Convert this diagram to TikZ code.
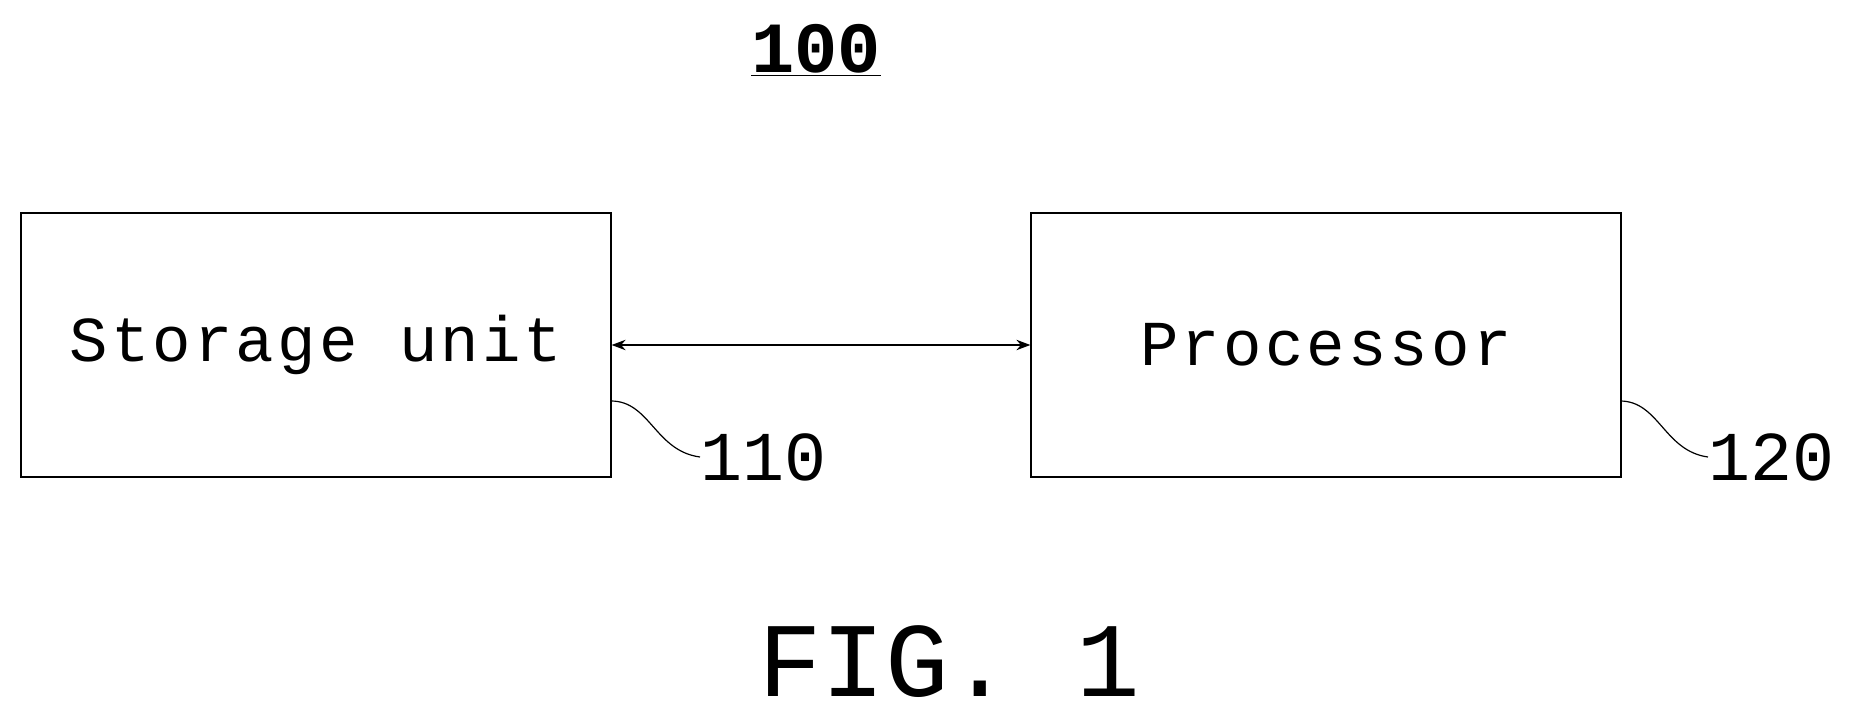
\documentclass[tikz,border=0pt]{standalone}
\usepackage{fontspec}
\setmainfont{Liberation Mono}
\usetikzlibrary{arrows.meta}
\begin{document}
\begin{tikzpicture}[x=1pt,y=-1pt,
  box/.style={draw,line width=1.3pt,minimum width=590pt,minimum height=264pt,inner sep=0,font=\fontsize{64}{70}\selectfont\addfontfeature{LetterSpace=5}},
  lbl/.style={font=\fontsize{70}{76}\selectfont,inner sep=0}]
\useasboundingbox (0,0) rectangle (1859,719);
\node[box] (su) at (316,345) {Storage unit};
\node[box] (pr) at (1326,345) {Processor};
\draw[line width=1.2pt,{Stealth[length=14pt]}-{Stealth[length=14pt]}] (su.east) -- (pr.east -| pr.west);
\node[font=\bfseries\fontsize{72}{78}\selectfont,inner sep=0] (t) at (816,50) {\underline{100}};
\node[lbl,anchor=west] (l1) at (700,457) {110};
\node[lbl,anchor=west] (l2) at (1708,457) {120};
\coordinate (c1) at (611,401);
\coordinate (c2) at (1620,401);
\draw[line width=1.2pt] (c1) .. controls (650,401) and (655,451) .. (l1.west);
\draw[line width=1.2pt] (c2) .. controls (1659,401) and (1664,451) .. (l2.west);
\node[font=\fontsize{106}{112}\selectfont,inner sep=0] (fig) at (949,662) {FIG. 1};
\end{tikzpicture}
\end{document}
